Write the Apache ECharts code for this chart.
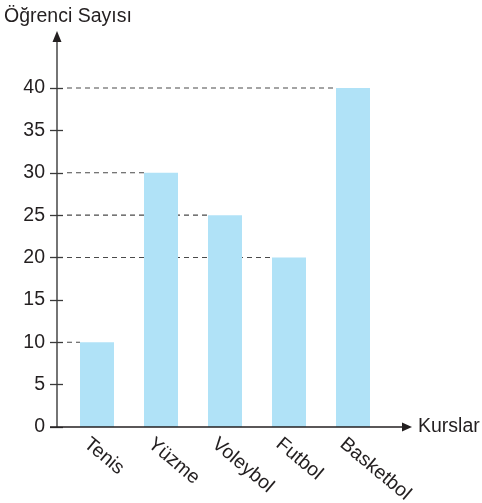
<!DOCTYPE html>
<html>
<head>
<meta charset="utf-8">
<script src="https://cdn.jsdelivr.net/npm/echarts@6/dist/echarts.min.js"></script>
<style>
  html, body { margin: 0; padding: 0; background: #fff; }
  #chart { width: 482px; height: 503px; }
</style>
</head>
<body>
<div id="chart"></div>
<script>
// Course enrolment bar chart
const categories = ['Tenis', 'Yüzme', 'Voleybol', 'Futbol', 'Basketbol'];
const studentCounts = [10, 30, 25, 20, 40];
const yTicks = [0, 5, 10, 15, 20, 25, 30, 35, 40];

const FONT = '"Liberation Sans", Arial, sans-serif';
const INK = '#231f20';
const AXIS = '#3a3a3a';
const BAR_W = 34;

const chart = echarts.init(document.getElementById('chart'), null, { renderer: 'canvas' });

const yMin = yTicks[0];
const yMax = yTicks[yTicks.length - 1];
const yStep = yTicks[1] - yTicks[0];

chart.setOption({
  animation: false,
  grid: { left: 65, right: 97, top: 88, bottom: 76, containLabel: false },
  xAxis: {
    type: 'category',
    data: categories,
    axisLine: { show: false },
    axisTick: { show: false },
    axisLabel: { show: false }
  },
  yAxis: [
    {
      type: 'value', min: yMin, max: yMax, interval: yStep,
      offset: 8,
      splitLine: { show: false },
      axisLine: { show: false },
      axisTick: { show: true, length: 7, lineStyle: { color: AXIS, width: 1.3 } },
      axisLabel: { margin: 12, fontSize: 19.5, fontFamily: FONT, color: INK }
    },
    {
      type: 'value', position: 'left', min: yMin, max: yMax, interval: yStep,
      offset: 8,
      splitLine: { show: false },
      axisLine: { show: false },
      axisTick: { show: true, inside: true, length: 6, lineStyle: { color: AXIS, width: 1.3 } },
      axisLabel: { show: false }
    }
  ],
  series: [{
    type: 'bar',
    data: studentCounts,
    barWidth: BAR_W,
    itemStyle: { color: '#b0e2f7' },
    z: 5
  }]
});

// axes with arrow heads, slanted category names and dashed guide lines
const axisX = 57;
const baseY = chart.convertToPixel({ yAxisIndex: 0 }, 0);
const elements = [];

studentCounts.forEach((v, i) => {
  const y = chart.convertToPixel({ yAxisIndex: 0 }, v);
  const cx = chart.convertToPixel({ xAxisIndex: 0 }, i);
  elements.push({
    type: 'line', z: 1,
    shape: { x1: axisX + 10, y1: y, x2: cx - BAR_W / 2, y2: y },
    style: { stroke: '#4a4a4a', lineWidth: 1.1, lineDash: [5, 4] }
  });
});

categories.forEach((name, i) => {
  const cx = chart.convertToPixel({ xAxisIndex: 0 }, i);
  elements.push({
    type: 'text', z: 10,
    x: cx - 4, y: baseY + 7,
    rotation: -40 * Math.PI / 180,
    style: {
      text: name, font: '19.5px ' + FONT, fill: INK,
      textAlign: 'left', textVerticalAlign: 'top'
    }
  });
});

elements.push(
  { type: 'line', z: 10, shape: { x1: axisX, y1: baseY, x2: axisX, y2: 40 },
    style: { stroke: AXIS, lineWidth: 1.4 } },
  { type: 'polygon', z: 10, shape: { points: [[axisX, 31], [axisX - 4.5, 42], [axisX + 4.5, 42]] },
    style: { fill: INK } },
  { type: 'line', z: 10, shape: { x1: 50, y1: baseY, x2: 404, y2: baseY },
    style: { stroke: INK, lineWidth: 1.4 } },
  { type: 'polygon', z: 10, shape: { points: [[412, baseY], [402, baseY - 4.5], [402, baseY + 4.5]] },
    style: { fill: INK } },
  { type: 'text', z: 10, x: 4, y: 17,
    style: { text: 'Öğrenci Sayısı', font: '19.5px ' + FONT, fill: INK, textVerticalAlign: 'middle' } },
  { type: 'text', z: 10, x: 418, y: baseY,
    style: { text: 'Kurslar', font: '19.5px ' + FONT, fill: INK, textVerticalAlign: 'middle' } }
);

chart.setOption({ graphic: elements });
</script>
</body>
</html>
